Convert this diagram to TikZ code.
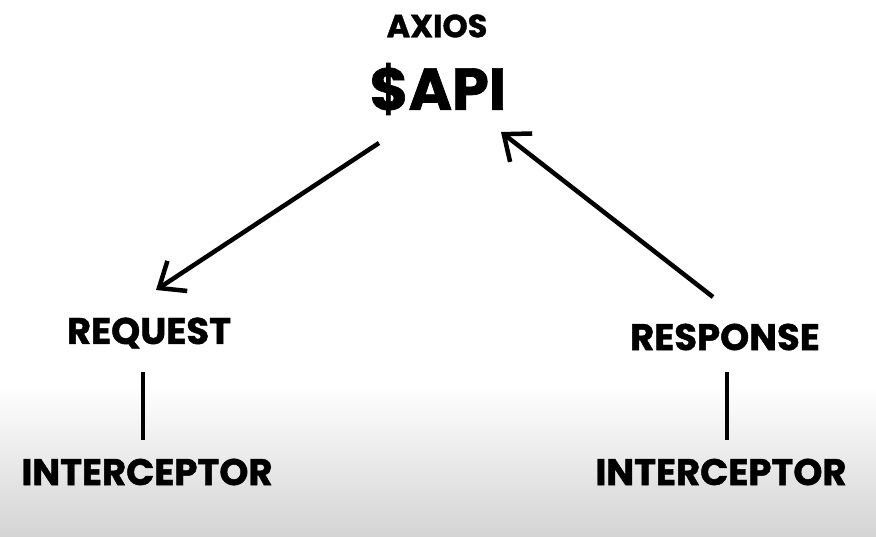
\documentclass[tikz,border=0pt]{standalone}
\usepackage{fontspec}
\setmainfont{Poppins}[BoldFeatures={FakeBold=1.2}]
\usetikzlibrary{arrows.meta}

\tikzset{
	topLabel/.style={inner sep=0pt, font=\bfseries\fontsize{32}{36}\selectfont},
	apiLabel/.style={inner sep=0pt, font=\bfseries\fontsize{59}{64}\selectfont},
	phaseLabel/.style={inner sep=0pt, font=\bfseries\fontsize{37}{42}\selectfont},
	icptLabel/.style={inner sep=0pt, font=\bfseries\fontsize{37}{42}\selectfont},
	flow/.style={line width=4.5pt, -{Straight Barb[length=22pt, width=36pt, line width=4.5pt]}},
	stem/.style={line width=4pt}
}

\begin{document}
\begin{tikzpicture}[x=1pt, y=-1pt]
		\useasboundingbox (0,0) rectangle (876,537);
		\fill[white] (0,0) rectangle (876,537);
		\shade[top color=white, bottom color=black!17] (0,385) rectangle (876,537);

		\node[topLabel](axios) at (437,26){AXIOS};
		\node[apiLabel](api) at (438,89){\$API};

		\node[phaseLabel](request) at (149,333){REQUEST};
		\node[phaseLabel](response) at (725,337){RESPONSE};

		\node[icptLabel](icptReq) at (147,472){INTERCEPTOR};
		\node[icptLabel](icptRes) at (721,472){INTERCEPTOR};

		% arrow ends
		\coordinate (apiOut) at (379,143);
		\coordinate (reqIn) at (156,290);
		\coordinate (resOut) at (713,297);
		\coordinate (apiIn) at (501,132);

		% draw flow arrows
		\draw[flow] (apiOut) -- (reqIn);
		\draw[flow] (resOut) -- (apiIn);

		% draw stems
		\coordinate (reqStemTop) at (143,372);
		\coordinate (reqStemBot) at (143,440);
		\coordinate (resStemTop) at (727,372);
		\coordinate (resStemBot) at (727,440);
		\draw[stem] (reqStemTop) -- (reqStemBot);
		\draw[stem] (resStemTop) -- (resStemBot);
	\end{tikzpicture}
\end{document}
